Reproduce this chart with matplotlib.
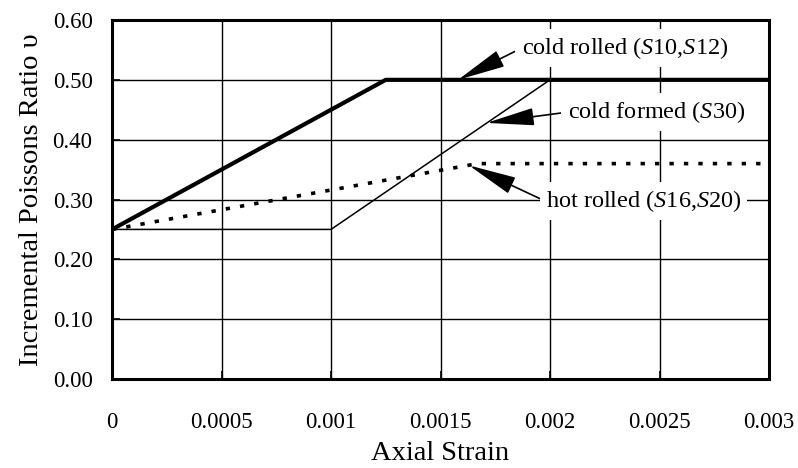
import matplotlib
matplotlib.use("Agg")
import matplotlib.pyplot as plt

# data
cold_rolled_x = [0.0, 0.00125, 0.003]
cold_rolled_y = [0.25, 0.50, 0.50]
cold_formed_x = [0.0, 0.001, 0.002, 0.003]
cold_formed_y = [0.25, 0.25, 0.50, 0.50]
hot_rolled_x = [0.0, 0.00167, 0.003]
hot_rolled_y = [0.25, 0.36, 0.36]

x_ticks = [0, 0.0005, 0.001, 0.0015, 0.002, 0.0025, 0.003]
x_tick_labels = ["0", "0.0005", "0.001", "0.0015", "0.002", "0.0025", "0.003"]
y_ticks = [0.0, 0.1, 0.2, 0.3, 0.4, 0.5, 0.6]
y_tick_labels = ["0.00", "0.10", "0.20", "0.30", "0.40", "0.50", "0.60"]

labels = ["cold rolled ($\\mathit{S}$10,$\\mathit{S}$12)",
          "cold formed ($\\mathit{S}$30)",
          "hot rolled ($\\mathit{S}$16,$\\mathit{S}$20)"]
label_xy = [(0.00187, 0.553), (0.00208, 0.446), (0.00198, 0.297)]
arrow_tips = [(0.00158, 0.50), (0.00171, 0.428), (0.00163, 0.357)]

plt.rcParams['font.family'] = ['Liberation Serif', 'DejaVu Serif']
plt.rcParams['mathtext.fontset'] = 'custom'
plt.rcParams['mathtext.it'] = 'Liberation Serif:italic'
plt.rcParams['mathtext.rm'] = 'Liberation Serif'

fig = plt.figure(figsize=(7.98, 4.68), dpi=100)
ax = fig.add_axes([112/798, 1-379/468, (769-112)/798, (379-20)/468])

ax.set_xlim(0, 0.003)
ax.set_ylim(0, 0.6)
ax.set_xticks(x_ticks)
ax.set_xticklabels(x_tick_labels)
ax.set_yticks(y_ticks)
ax.set_yticklabels(y_tick_labels)
ax.grid(True, color='black', linewidth=1.0, zorder=1)
ax.set_axisbelow(True)
ax.tick_params(direction='in', length=6, width=1.2, labelsize=16.5)
ax.tick_params(axis='x', pad=24)
ax.tick_params(axis='y', pad=14)
for s in ax.spines.values():
    s.set_linewidth(2.2)

ax.plot(cold_formed_x, cold_formed_y, color='black', linewidth=1.1, zorder=3)
ax.plot(hot_rolled_x, hot_rolled_y, color='black', linewidth=2.6,
        linestyle=(0, (1.2, 2.8)), zorder=3)
ax.plot(cold_rolled_x, cold_rolled_y, color='black', linewidth=3.0, zorder=4)

for lab, txy, tip in zip(labels, label_xy, arrow_tips):
    ax.annotate(lab, xy=tip, xytext=txy, textcoords='data',
                fontsize=17.5, va='center', ha='left', zorder=6,
                bbox=dict(boxstyle='square,pad=0.25', fc='white', ec='none'),
                arrowprops=dict(arrowstyle='-|>,head_length=3.0,head_width=0.55',
                                mutation_scale=10, color='black', lw=1.2,
                                shrinkA=0, shrinkB=0, relpos=(0, 0.5)))

ax.set_xlabel("Axial Strain", fontsize=20.5)
ax.xaxis.set_label_coords(0.5, -0.172)
ax.set_ylabel("Incremental Poissons Ratio υ", fontsize=20.5)
ax.yaxis.set_label_coords(-0.104, 0.5)

fig.savefig("out.png", dpi=100)
